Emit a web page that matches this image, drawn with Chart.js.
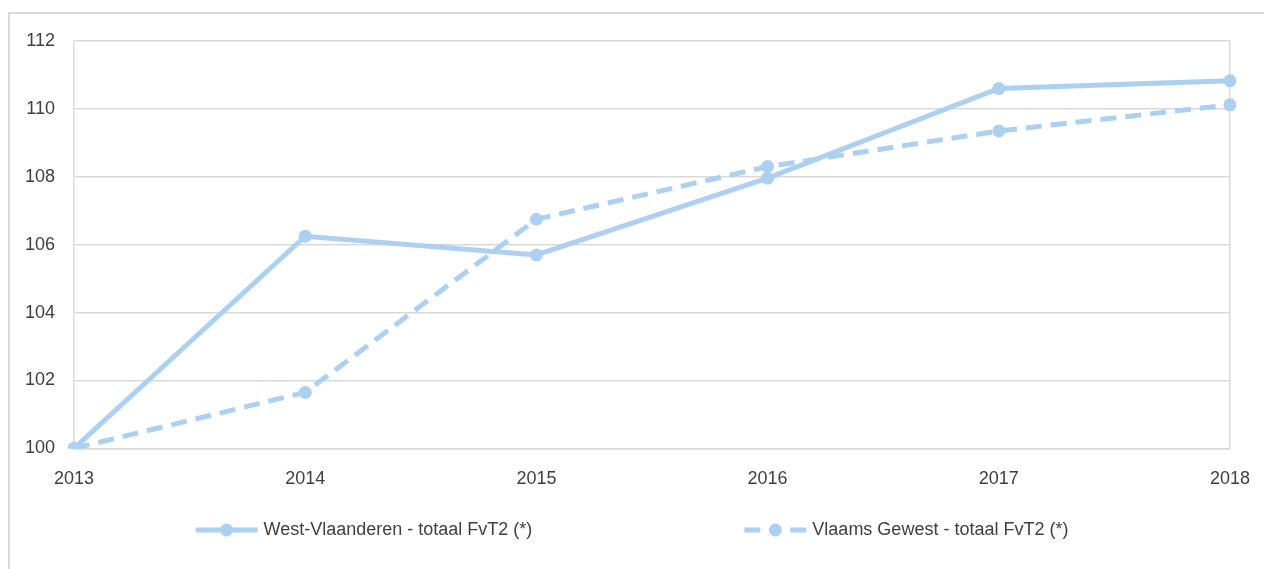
<!DOCTYPE html>
<html>
<head>
<meta charset="utf-8">
<script src="https://cdn.jsdelivr.net/npm/chart.js@4"></script>
<style>
  html, body { margin: 0; padding: 0; background: #fff; }
  #wrap { position: relative; width: 1264px; height: 569px; overflow: hidden; }
  #frame { position: absolute; left: 8px; top: 12px; width: 1270px; height: 600px; border: 2px solid #d9d9d9; box-sizing: border-box; }
  #chartBox { position: absolute; left: 0; top: 0; width: 1264px; height: 569px; }
</style>
</head>
<body>
<div id="wrap">
  <div id="frame"></div>
  <div id="chartBox"><canvas id="indexChart"></canvas></div>
</div>
<script>
const years = ["2013", "2014", "2015", "2016", "2017", "2018"];
const westVlaanderen = [100, 106.25, 105.7, 107.96, 110.6, 110.83];
const vlaamsGewest = [100, 101.65, 106.75, 108.3, 109.35, 110.12];
const yTicks = [100, 102, 104, 106, 108, 110, 112];

const lineColor = "#abd0f2";
const gridColor = "#d9d9d9";
const textColor = "#404040";
const fontFamily = "Liberation Sans, Arial, sans-serif";

// legend drawn by hand, Excel style: short line with a dot, wide gap between the items
const bottomLegend = {
    id: "bottomLegend",
    afterDraw(chart) {
        const g = chart.ctx;
        const markerW = 62, textGap = 6, itemGap = 212, y = 530;
        g.save();
        g.font = "18px " + fontFamily;
        g.textBaseline = "middle";
        const items = chart.data.datasets.map(ds => ({
            ds: ds,
            w: markerW + textGap + g.measureText(ds.label).width
        }));
        const total = items.reduce((s, it) => s + it.w, 0) + itemGap * (items.length - 1);
        let x = chart.width / 2 - total / 2;
        items.forEach(it => {
            g.strokeStyle = lineColor;
            g.fillStyle = lineColor;
            g.lineWidth = 5;
            g.setLineDash([]);
            if (it.ds.borderDash) {
                g.beginPath(); g.moveTo(x, y); g.lineTo(x + 16, y); g.stroke();
                g.beginPath(); g.moveTo(x + markerW - 16, y); g.lineTo(x + markerW, y); g.stroke();
            } else {
                g.beginPath(); g.moveTo(x, y); g.lineTo(x + markerW, y); g.stroke();
            }
            g.beginPath(); g.arc(x + markerW / 2, y, 6.5, 0, Math.PI * 2); g.fill();
            g.fillStyle = textColor;
            g.fillText(it.ds.label, x + markerW + textGap, y);
            x += it.w + itemGap;
        });
        g.restore();
    }
};

document.addEventListener('DOMContentLoaded', function () {
    const ctx = document.getElementById("indexChart").getContext("2d");

    new Chart(ctx, {
        type: "line",
        data: {
            labels: years,
            datasets: [{
                label: "West-Vlaanderen - totaal FvT2 (*)",
                data: westVlaanderen,
                borderColor: lineColor,
                backgroundColor: lineColor,
                borderWidth: 5,
                pointRadius: 6.5,
                pointHoverRadius: 6.5,
                pointBackgroundColor: lineColor,
                pointBorderWidth: 0,
                tension: 0
            }, {
                label: "Vlaams Gewest - totaal FvT2 (*)",
                data: vlaamsGewest,
                borderColor: lineColor,
                backgroundColor: lineColor,
                borderWidth: 5,
                borderDash: [16, 9],
                pointRadius: 6.5,
                pointHoverRadius: 6.5,
                pointBackgroundColor: lineColor,
                pointBorderWidth: 0,
                tension: 0
            }]
        },
        plugins: [bottomLegend],
        options: {
            responsive: true,
            maintainAspectRatio: false,
            animation: false,
            layout: { padding: { left: 0, right: 34, top: 41, bottom: 59 } },
            plugins: {
                tooltip: { enabled: false },
                legend: { display: false }
            },
            scales: {
                x: {
                    offset: false,
                    afterFit: (scale) => { scale.paddingRight = 0; scale.paddingLeft = 0; },
                    grid: {
                        drawTicks: false,
                        lineWidth: 1.5,
                        color: (c) => (c.index === years.length - 1 ? gridColor : "rgba(0,0,0,0)")
                    },
                    border: { display: true, color: gridColor, width: 1.5 },
                    ticks: {
                        color: textColor,
                        padding: 20,
                        maxRotation: 0,
                        font: { family: fontFamily, size: 18 }
                    }
                },
                y: {
                    min: 100,
                    max: 112,
                    afterBuildTicks: (scale) => { scale.ticks = yTicks.map(v => ({ value: v })); },
                    afterFit: (scale) => { scale.width = 74; },
                    grid: { drawTicks: false, color: gridColor, lineWidth: 1.5 },
                    border: { display: true, color: gridColor, width: 1.5 },
                    ticks: {
                        color: textColor,
                        padding: 19,
                        font: { family: fontFamily, size: 18 }
                    }
                }
            }
        }
    });
});
</script>
</body>
</html>
